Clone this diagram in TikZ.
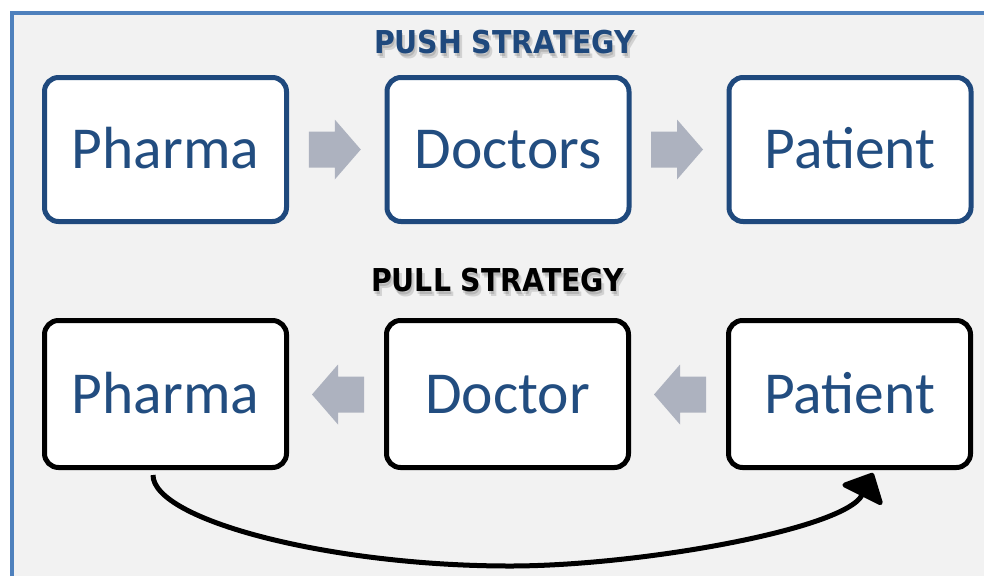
\documentclass[tikz,border=0pt]{standalone}
\usepackage{fontspec}
\setmainfont{Carlito}
\newfontfamily\titlefont{DejaVu Sans Condensed}
\usetikzlibrary{arrows.meta,calc}
\definecolor{frameblue}{HTML}{4F81BD}
\definecolor{darkblue}{HTML}{1F497D}
\definecolor{txtblue}{HTML}{224D80}
\definecolor{bggray}{HTML}{F2F2F2}
\definecolor{arrowgray}{HTML}{ADB2BF}
\tikzset{
  box/.style={draw, line width=5pt, fill=white, rounded corners=14pt,
    minimum width=242pt, inner sep=0pt, text height=38pt, text depth=0pt,
    font=\fontsize{59.5}{60}\selectfont, text=txtblue},
  pushbox/.style={box, draw=darkblue, minimum height=144pt},
  pullbox/.style={box, draw=black, minimum height=147pt},
  titletext/.style={font=\titlefont\bfseries\fontsize{31.5}{32}\selectfont, inner sep=0pt},
  pics/blockarrow/.style={code={
    \fill[arrowgray] (-26,-18) -- (0,-18) -- (0,-30) -- (26,0) -- (0,30) -- (0,18) -- (-26,18) -- cycle;}}
}
\begin{document}
\begin{tikzpicture}[x=1pt,y=-1pt]
\useasboundingbox (0,0) rectangle (984,576);
\fill[white] (0,0) rectangle (984,576);
\fill[bggray] (11.5,13) rectangle (984,576);
\draw[frameblue, line width=4pt] (11.5,576) -- (11.5,13) -- (984,13);

% titles with soft shadow
\foreach \dx/\dy in {1/3,3/5}{
  \node[titletext, text=black, opacity=0.13] at (504.5+\dx,42+\dy) {PUSH STRATEGY};
  \node[titletext, text=black, opacity=0.13] at (497.5+\dx,280+\dy) {PULL STRATEGY};
}
\node[titletext, text=darkblue] (pushtitle) at (504.5,42) {PUSH STRATEGY};
\node[titletext, text=black] (pulltitle) at (497.5,280) {PULL STRATEGY};

% push row
\node[pushbox] (ps1) at (165.5,149.5) {Pharma};
\node[pushbox] (ps2) at (508,149.5) {Doctors};
\node[pushbox] (ps3) at (850,149.5) {Patient};
\pic at ($($(ps1.east)!0.5!(ps2.west)$)+(-2,0)$) {blockarrow};
\pic at ($($(ps2.east)!0.5!(ps3.west)$)+(-2,0)$) {blockarrow};

% pull row
\node[pullbox] (pl1) at (165.5,394) {Pharma};
\node[pullbox] (pl2) at (507.5,394) {Doctor};
\node[pullbox] (pl3) at (849.5,394) {Patient};
\pic[xscale=-1] at ($($(pl1.east)!0.5!(pl2.west)$)+(1.5,0.5)$) {blockarrow};
\pic[xscale=-1] at ($($(pl2.east)!0.5!(pl3.west)$)+(1.5,0.5)$) {blockarrow};

% curved arrow
\coordinate (cs) at ($(pl1.south)+(-12.5,5)$);
\coordinate (ce) at ($(pl3.south)+(23.5,3)$);
\draw[line width=5pt, -{Triangle[length=27pt,width=50pt,round]}]
  (cs) .. controls ($(cs)+(0,45)$) and (330,566) .. (510,566)
       .. controls (640,566) and ($(ce)+(-28,56)$) .. (ce);
\end{tikzpicture}
\end{document}
